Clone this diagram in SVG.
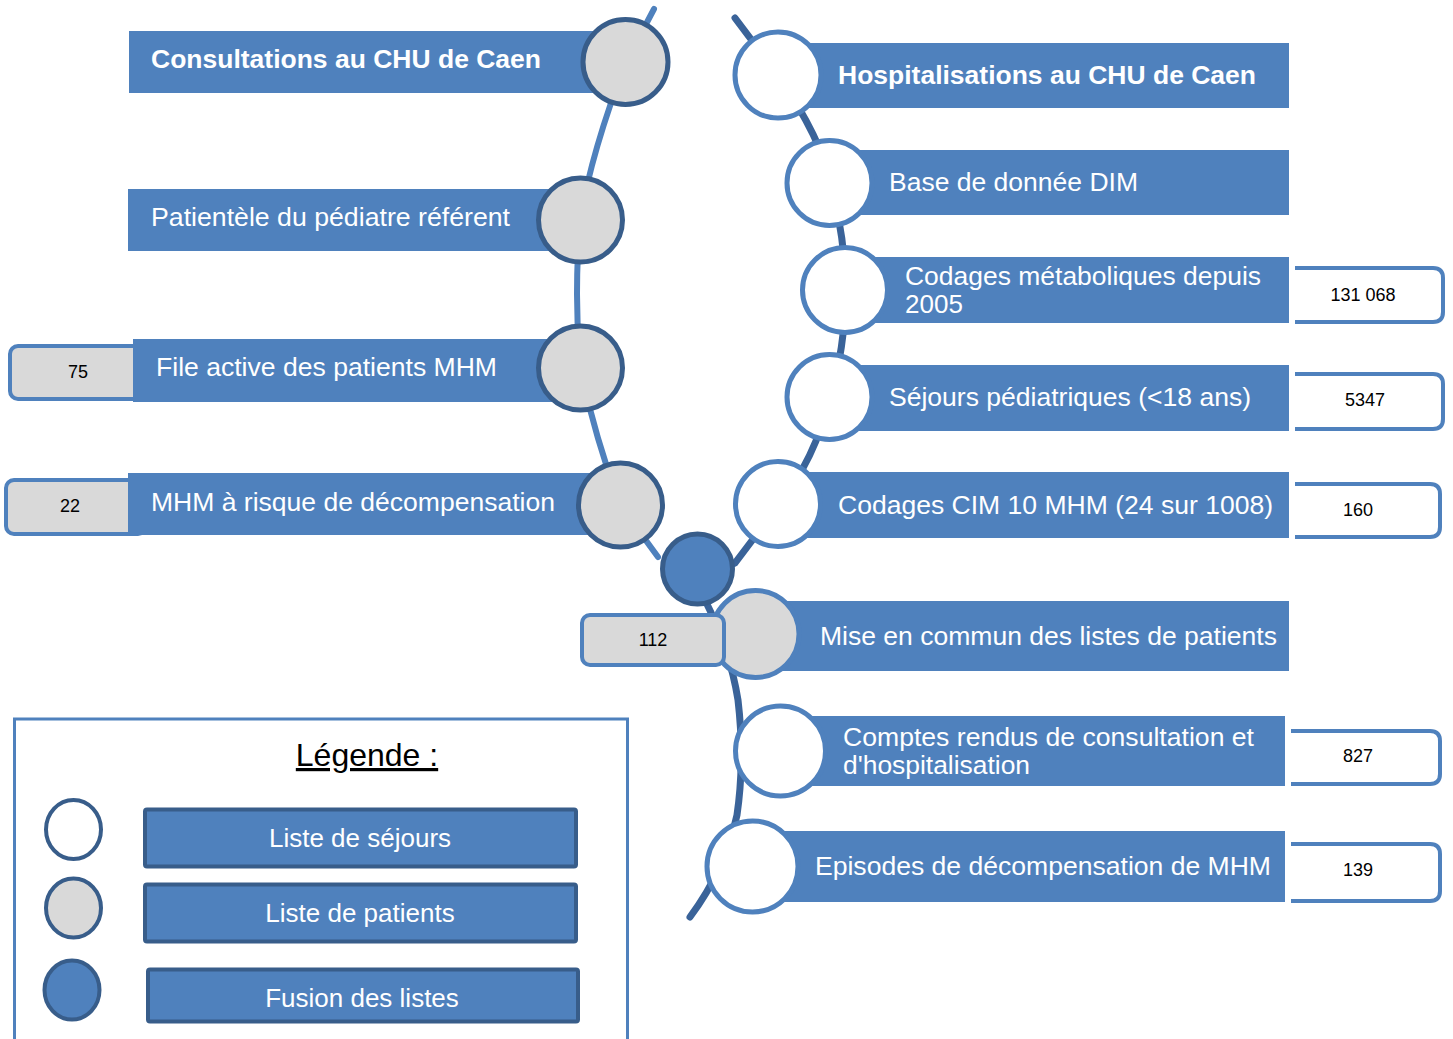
<svg xmlns="http://www.w3.org/2000/svg" width="1453" height="1039" viewBox="0 0 1453 1039">
<style>
.bar{fill:#4F81BD}
.lbl{font-family:"Liberation Sans",Arial,sans-serif;font-size:26px;fill:#FFFFFF}
.bold{font-weight:bold}
.num{font-family:"Liberation Sans",Arial,sans-serif;font-size:18px;fill:#000000;text-anchor:middle}
.pat{fill:#D9D9D9;stroke:#385D8A;stroke-width:5}
.sej{fill:#FFFFFF;stroke:#4F81BD;stroke-width:5}
.pat2{fill:#D9D9D9;stroke:#4F81BD;stroke-width:5}
.fus{fill:#4F81BD;stroke:#385D8A;stroke-width:5}
.gbox{fill:#D9D9D9;stroke:#4F81BD;stroke-width:4}
.nbox{fill:#FFFFFF;stroke:#4F81BD;stroke-width:4}
.lgbar{fill:#4F81BD;stroke:#385D8A;stroke-width:4}
.lgtxt{font-family:"Liberation Sans",Arial,sans-serif;font-size:26px;fill:#FFFFFF;text-anchor:middle}
</style>
<rect width="1453" height="1039" fill="#FFFFFF"/>
<g id="connectors" fill="none" stroke-linecap="round">
<path d="M654,9 L626,62 Q592,150 580,220 Q574,294 580,368 Q596,440 620,505 L658,557" stroke="#4F81BD" stroke-width="6"/>
<path d="M735,18 L778,75 Q822,140 830,182 Q846,240 845,290 Q846,345 830,397 Q815,460 778,505 L760,530 L735,563 L700,580 L705,600 Q730,650 738,700 Q745,760 737,815 Q725,870 690,917" stroke="#3A6399" stroke-width="7"/>
</g>
<g id="consultations">
<rect class="bar" x="129" y="31" width="495" height="62"/>
<circle class="pat" cx="625.5" cy="62" r="42.5"/>
<text class="lbl bold" x="151" y="68" textLength="390" lengthAdjust="spacingAndGlyphs">Consultations au CHU de Caen</text>
</g>
<g id="patientele">
<rect class="bar" x="128" y="189" width="450" height="62"/>
<circle class="pat" cx="580.5" cy="220" r="42"/>
<text class="lbl" x="151" y="226" textLength="359" lengthAdjust="spacingAndGlyphs">Patientèle du pédiatre référent</text>
</g>
<g id="file-active">
<rect class="gbox" x="10" y="346" width="140" height="53" rx="8"/>
<rect class="bar" x="133" y="339" width="445" height="63"/>
<circle class="pat" cx="580.5" cy="368" r="42"/>
<text class="lbl" x="156" y="376" textLength="341" lengthAdjust="spacingAndGlyphs">File active des patients MHM</text>
<text class="num" x="78" y="378">75</text>
</g>
<g id="mhm-risque">
<rect class="gbox" x="6" y="480" width="140" height="54" rx="8"/>
<rect class="bar" x="128" y="473" width="490" height="62"/>
<circle class="pat" cx="620.5" cy="505" r="42"/>
<text class="lbl" x="151" y="511" textLength="404" lengthAdjust="spacingAndGlyphs">MHM à risque de décompensation</text>
<text class="num" x="70" y="512">22</text>
</g>
<g id="fusion">
<circle class="fus" cx="697.5" cy="569" r="35"/>
</g>
<g id="hospitalisations">
<rect class="bar" x="790" y="43" width="499" height="65"/>
<circle class="sej" cx="778" cy="75" r="43"/>
<text class="lbl bold" x="838" y="84" textLength="418" lengthAdjust="spacingAndGlyphs">Hospitalisations au CHU de Caen</text>
</g>
<g id="base-dim">
<rect class="bar" x="850" y="150" width="439" height="65"/>
<circle class="sej" cx="829.5" cy="183" r="42.5"/>
<text class="lbl" x="889" y="191" textLength="249" lengthAdjust="spacingAndGlyphs">Base de donnée DIM</text>
</g>
<g id="codages-metab">
<rect class="bar" x="865" y="257" width="424" height="66"/>
<circle class="sej" cx="845" cy="290" r="42.5"/>
<text class="lbl" x="905" y="285" textLength="356" lengthAdjust="spacingAndGlyphs">Codages métaboliques depuis</text>
<text class="lbl" x="905" y="313">2005</text>
<path class="nbox" d="M1295,268 H1433 Q1443,268 1443,278 V312 Q1443,322 1433,322 H1295"/>
<text class="num" x="1363" y="301">131 068</text>
</g>
<g id="sejours-ped">
<rect class="bar" x="850" y="365" width="439" height="66"/>
<circle class="sej" cx="829.5" cy="397" r="42.5"/>
<text class="lbl" x="889" y="406" textLength="362" lengthAdjust="spacingAndGlyphs">Séjours pédiatriques (&lt;18 ans)</text>
<path class="nbox" d="M1295,374 H1433 Q1443,374 1443,384 V419 Q1443,429 1433,429 H1295"/>
<text class="num" x="1365" y="406">5347</text>
</g>
<g id="codages-cim">
<rect class="bar" x="800" y="472" width="489" height="66"/>
<circle class="sej" cx="778" cy="504" r="42.5"/>
<text class="lbl" x="838" y="514" textLength="435" lengthAdjust="spacingAndGlyphs">Codages CIM 10 MHM (24 sur 1008)</text>
<path class="nbox" d="M1295,484 H1430 Q1440,484 1440,494 V527 Q1440,537 1430,537 H1295"/>
<text class="num" x="1358" y="516">160</text>
</g>
<g id="mise-en-commun">
<rect class="bar" x="775" y="601" width="514" height="70"/>
<circle class="pat2" cx="755.5" cy="634" r="43.5"/>
<rect class="gbox" x="582" y="615" width="142" height="50" rx="8"/>
<text class="lbl" x="820" y="645" textLength="457" lengthAdjust="spacingAndGlyphs">Mise en commun des listes de patients</text>
<text class="num" x="653" y="646">112</text>
</g>
<g id="comptes-rendus">
<rect class="bar" x="800" y="716" width="485" height="70"/>
<circle class="sej" cx="780.5" cy="751" r="45"/>
<text class="lbl" x="843" y="746" textLength="411" lengthAdjust="spacingAndGlyphs">Comptes rendus de consultation et</text>
<text class="lbl" x="843" y="774" textLength="187" lengthAdjust="spacingAndGlyphs">d'hospitalisation</text>
<path class="nbox" d="M1291,731 H1430 Q1440,731 1440,741 V774 Q1440,784 1430,784 H1291"/>
<text class="num" x="1358" y="762">827</text>
</g>
<g id="episodes">
<rect class="bar" x="775" y="831" width="510" height="71"/>
<circle class="sej" cx="752.5" cy="866.5" r="45.5"/>
<text class="lbl" x="815" y="875" textLength="456" lengthAdjust="spacingAndGlyphs">Episodes de décompensation de MHM</text>
<path class="nbox" d="M1291,844 H1430 Q1440,844 1440,854 V891 Q1440,901 1430,901 H1291"/>
<text class="num" x="1358" y="876">139</text>
</g>
<g id="legende">
<rect x="14.5" y="719" width="613" height="330" fill="#FFFFFF" stroke="#4F81BD" stroke-width="3"/>
<text x="367" y="766" font-family="'Liberation Sans',Arial,sans-serif" font-size="32" fill="#000000" text-anchor="middle" text-decoration="underline">Légende :</text>
<ellipse cx="73.5" cy="829.5" rx="27.5" ry="29.5" fill="#FFFFFF" stroke="#385D8A" stroke-width="4"/>
<ellipse cx="73.5" cy="908" rx="27.5" ry="29.5" fill="#D9D9D9" stroke="#385D8A" stroke-width="4"/>
<ellipse cx="72" cy="990" rx="27.5" ry="29.5" fill="#4F81BD" stroke="#385D8A" stroke-width="4"/>
<rect class="lgbar" x="145" y="809.5" width="431" height="57" rx="2"/>
<text class="lgtxt" x="360" y="847">Liste de séjours</text>
<rect class="lgbar" x="145" y="884.5" width="431" height="57" rx="2"/>
<text class="lgtxt" x="360" y="922">Liste de patients</text>
<rect class="lgbar" x="148" y="969.5" width="430" height="52" rx="2"/>
<text class="lgtxt" x="362" y="1007">Fusion des listes</text>
</g>
</svg>
